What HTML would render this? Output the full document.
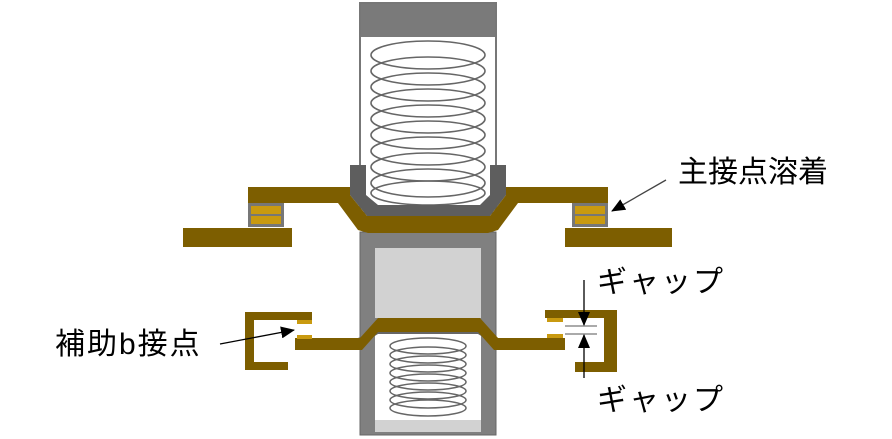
<!DOCTYPE html>
<html><head><meta charset="utf-8"><style>
html,body{margin:0;padding:0;background:#fff;width:892px;height:439px;overflow:hidden}
text{font-family:"Liberation Sans","Noto Sans CJK JP",sans-serif;fill:#000}
</style></head><body>
<svg width="892" height="439" viewBox="0 0 892 439" xmlns="http://www.w3.org/2000/svg">
<defs><marker id="ah" markerWidth="14" markerHeight="12" refX="13" refY="6" orient="auto" markerUnits="userSpaceOnUse"><path d="M0,0 L14,6 L0,12 Z" fill="#000"/></marker></defs>
<!-- upper tube -->
<rect x="360" y="3" width="136" height="210" fill="#fff" stroke="#777" stroke-width="2"/>
<rect x="361" y="4" width="134" height="33" fill="#7a7a7a"/>
<g fill="none" stroke="#666" stroke-width="1.6">
<ellipse cx="428" cy="55" rx="57" ry="14"/><ellipse cx="428" cy="71" rx="57" ry="14"/>
<ellipse cx="428" cy="87" rx="57" ry="14"/><ellipse cx="428" cy="103" rx="57" ry="14"/>
<ellipse cx="428" cy="119" rx="57" ry="14"/><ellipse cx="428" cy="135" rx="57" ry="14"/>
<ellipse cx="428" cy="151" rx="57" ry="14"/><ellipse cx="428" cy="167" rx="57" ry="14"/>
<ellipse cx="428" cy="183" rx="57" ry="14"/><ellipse cx="428" cy="193" rx="57" ry="12"/>
</g>
<!-- cup -->
<path d="M350,165 L366,165 L366,195 L378,205 L480,205 L490,195 L490,165 L506,165 L506,195 L490,216 L367,216 L350,195 Z" fill="#5e5e5e"/>
<!-- lower tube -->
<rect x="360" y="232" width="136" height="203" fill="#808080" stroke="#666" stroke-width="1"/>
<rect x="375" y="248" width="106" height="70" fill="#d2d2d2"/>
<rect x="375" y="330" width="106" height="90" fill="#fff"/>
<rect x="375" y="420" width="106" height="12" fill="#d2d2d2"/>
<g fill="none" stroke="#666" stroke-width="1.5">
<ellipse cx="428" cy="346" rx="38" ry="8"/><ellipse cx="428" cy="355" rx="38" ry="8"/>
<ellipse cx="428" cy="364" rx="38" ry="8"/><ellipse cx="428" cy="373" rx="38" ry="8"/>
<ellipse cx="428" cy="382" rx="38" ry="8"/><ellipse cx="428" cy="391" rx="38" ry="8"/>
<ellipse cx="428" cy="400" rx="38" ry="8"/><ellipse cx="428" cy="408" rx="38" ry="8"/>
</g>
<path d="M358,338 L376,330 L480,330 L498,338 L494,344 L478,334 L378,334 L362,344 Z" fill="#666"/>
<!-- upper gold -->
<path d="M248,187 L350,187 L350,195 L367,216 L490,216 L506,195 L506,187 L608,187 L608,203 L518,203 L498,230 L488,233 L368,233 L358,230 L338,203 L248,203 Z" fill="#7d5e00"/>
<rect x="248" y="203" width="36" height="24" fill="#777"/>
<rect x="251" y="206" width="30" height="8" fill="#c99a10"/>
<rect x="251" y="216" width="30" height="8" fill="#c99a10"/>
<rect x="572" y="203" width="36" height="24" fill="#777"/>
<rect x="575" y="206" width="30" height="8" fill="#c99a10"/>
<rect x="575" y="216" width="30" height="8" fill="#c99a10"/>
<rect x="183" y="228" width="109" height="19" fill="#7d5e00"/>
<rect x="565" y="228" width="107" height="19" fill="#7d5e00"/>
<!-- lower gold moving -->
<path d="M295,338 L360,338 L378,318 L480,318 L498,338 L565,338 L565,350 L494,350 L478,332 L378,332 L362,350 L295,350 Z" fill="#7d5e00"/>
<path d="M245,312 L312,312 L312,320 L254,320 L254,362 L288,362 L288,370 L245,370 Z" fill="#7d5e00"/>
<rect x="297" y="320" width="15" height="4" fill="#c99a10"/>
<rect x="297" y="335" width="15" height="4" fill="#c99a10"/>
<path d="M545,310 L617,310 L617,372 L575,372 L575,362 L604,362 L604,318 L545,318 Z" fill="#7d5e00"/>
<rect x="547" y="318" width="16" height="4" fill="#c99a10"/>
<rect x="547" y="334" width="16" height="4" fill="#c99a10"/>
<line x1="565" y1="326" x2="597" y2="326" stroke="#777" stroke-width="1.2"/>
<line x1="565" y1="334" x2="597" y2="334" stroke="#777" stroke-width="1.2"/>
<line x1="584" y1="280" x2="584" y2="325" stroke="#000" stroke-width="1.3" marker-end="url(#ah)"/>
<line x1="584" y1="378" x2="584" y2="335" stroke="#000" stroke-width="1.3" marker-end="url(#ah)"/>
<line x1="666" y1="180" x2="612" y2="211" stroke="#444" stroke-width="1.3" marker-end="url(#ah)"/>
<line x1="220" y1="344" x2="294" y2="330" stroke="#000" stroke-width="1.3" marker-end="url(#ah)"/>
<text x="678" y="182" font-size="30">主接点溶着</text>
<text x="597" y="292" font-size="30" letter-spacing="2">ギャップ</text>
<text x="597" y="410" font-size="30" letter-spacing="2">ギャップ</text>
<text x="55" y="354" font-size="30" letter-spacing="2">補助b接点</text>
</svg>
</body></html>
